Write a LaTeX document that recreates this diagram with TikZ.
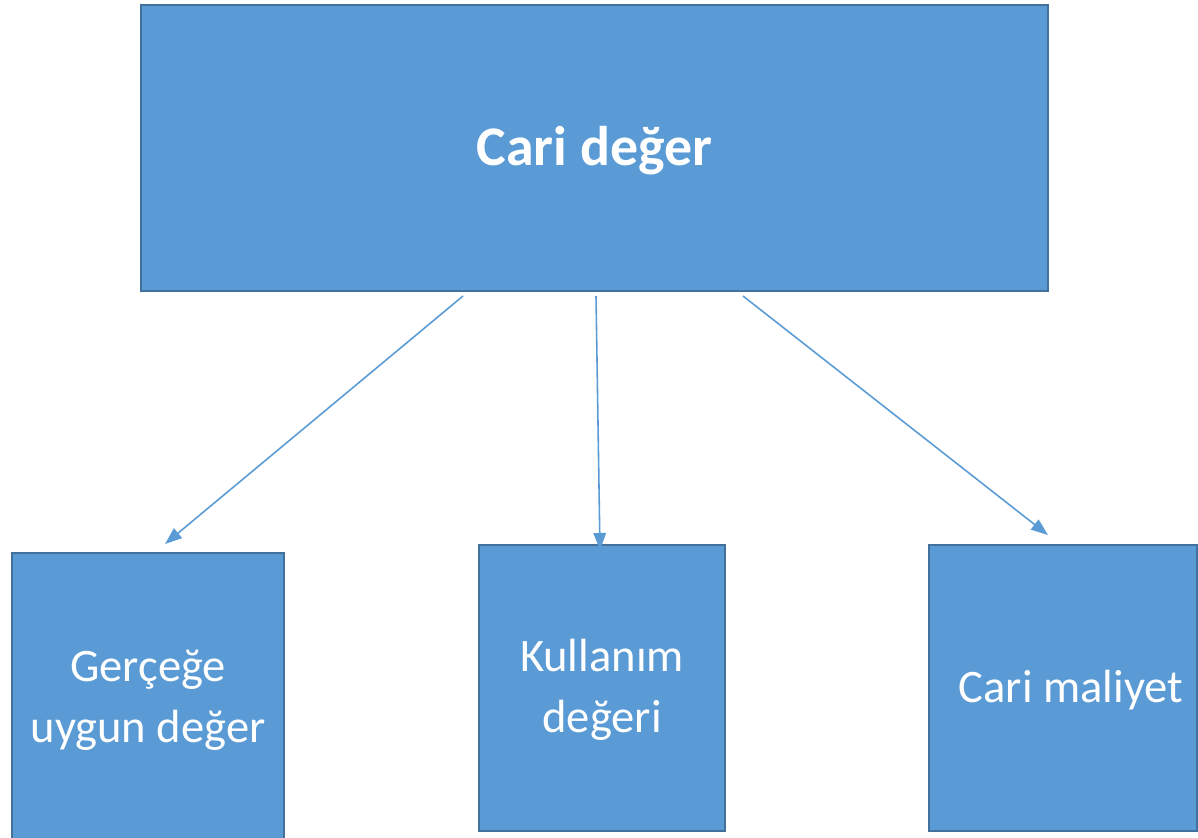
\documentclass[tikz,border=0pt]{standalone}
\usepackage{fontspec}
\setmainfont{Carlito}
\usetikzlibrary{arrows.meta, positioning}

\definecolor{boxfill}{HTML}{5B9BD5}
\definecolor{boxline}{HTML}{41719C}

\tikzset{
    valuebox/.style={draw=boxline, line width=1.1pt, fill=boxfill, text=white,
        align=center, inner sep=0pt},
    boxtext/.style={text=white, align=center, font=\fontsize{26.5}{34.5}\selectfont},
    link/.style={-{Triangle[length=0.34cm, width=0.25cm]}, draw=boxfill, line width=0.9pt},
}

\begin{document}
\begin{tikzpicture}[x=0.02cm, y=-0.02cm]
% Canvas
\useasboundingbox (0,0) rectangle (1198,838);
\clip (0,0) rectangle (1198,838);

% Boxes
\node[valuebox, minimum width=18.14cm, minimum height=5.72cm] (cari) at (594.5,148) {};
\node[valuebox, minimum width=5.44cm, minimum height=5.72cm] (gercege) at (148,696) {};
\node[valuebox, minimum width=4.92cm, minimum height=5.72cm] (kullanim) at (602,688) {};
\node[valuebox, minimum width=5.36cm, minimum height=5.72cm] (maliyet) at (1063,688) {};

% Labels
\node[boxtext, font=\fontsize{31.8}{38}\selectfont\bfseries] (cari-txt) at (594.5,151) {Cari değer};
\node[boxtext] (gercege-txt) at (148,700) {Gerçeğe\\uygun değer};
\node[boxtext] (kullanim-txt) at (602,690) {Kullanım\\değeri};
\node[boxtext] (maliyet-txt) at (1071,690) {Cari maliyet};

% Arrow ends
\coordinate (s1) at (463,296);
\coordinate (s2) at (596,296);
\coordinate (s3) at (743,296);
\coordinate (e1) at (165,544);
\coordinate (e2) at (600,550);
\coordinate (e3) at (1048,535);

\draw[link] (s1) -- (e1);
\draw[link] (s2) -- (e2);
\draw[link] (s3) -- (e3);
\end{tikzpicture}
\end{document}
